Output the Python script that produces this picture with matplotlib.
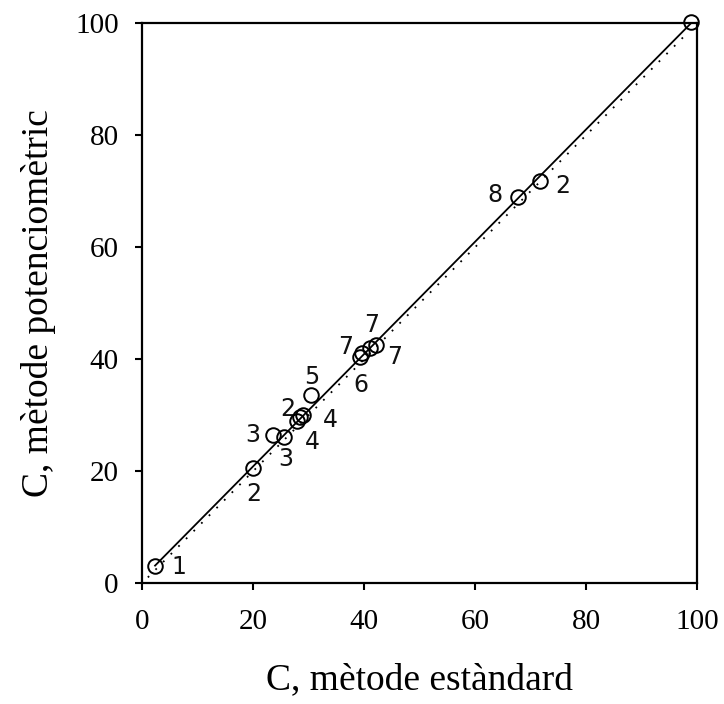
import matplotlib
matplotlib.use("Agg")
import matplotlib.pyplot as plt
import numpy as np

# Data
x_standard = [2.3, 20.0, 23.6, 25.6, 27.8, 28.5, 29.0, 30.5, 39.3, 39.6, 41.0, 42.2, 67.7, 71.7, 98.9]
y_potenc   = [3.0, 20.5, 26.4, 26.0, 29.0, 29.6, 30.0, 33.6, 40.4, 41.1, 41.9, 42.5, 68.9, 71.9, 100.2]
point_labels = ["1", "2", "3", "3", "4", "2", "4", "5", "6", "7", "7", "7", "8", "2", "9"]
label_offsets = [(24, -1), (1, -26), (-20, 0), (1, -22), (16, -21), (-13, 8), (27, -5), (0, 18),
                 (1, -28), (-16, 6), (2, 23), (18, -12), (-23, 2), (23, -5), (-27, -16)]

fit_intercept = 0.8
fit_slope = 1.003
fit_range = [2.3, 98.9]
identity_range = [1.0, 98.0]
ticks = [0, 20, 40, 60, 80, 100]

fig = plt.figure(figsize=(7.24, 7.04), dpi=100)
ax = fig.add_axes([142.3/724, 1-583/704, (697-142.3)/724, (583-23.3)/704])

# identity (dotted) and regression (solid)
ix = np.array(identity_range)
ax.plot(ix, ix, color="black", linestyle=(0, (1, 5)), linewidth=1.3, zorder=2)
fx = np.array(fit_range)
ax.plot(fx, fit_intercept + fit_slope*fx, color="black", linewidth=1.3, zorder=3)

ax.plot(x_standard, y_potenc, linestyle="none", marker="o", markersize=10.5,
        markerfacecolor="none", markeredgecolor="black", markeredgewidth=1.4,
        zorder=4, clip_on=False)

for xv, yv, lab, off in zip(x_standard, y_potenc, point_labels, label_offsets):
    ax.annotate(lab, (xv, yv), xytext=off, textcoords="offset pixels",
                ha="center", va="center", fontsize=17, family="DejaVu Sans", color="#111111")

ax.set_xlim(0, 100)
ax.set_ylim(0, 100)
ax.set_xticks(ticks)
ax.set_yticks(ticks)
ax.set_xticklabels([str(t) for t in ticks], fontsize=21, family="Liberation Serif")
ax.set_yticklabels([str(t) for t in ticks], fontsize=21, family="Liberation Serif")
ax.tick_params(axis="x", direction="out", length=5, width=1.5, pad=14, top=False)
ax.tick_params(axis="y", direction="out", length=5, width=1.5, pad=12, right=False)
for s in ax.spines.values():
    s.set_linewidth(1.6)

ax.set_xlabel("C, mètode estàndard", fontsize=27, family="Liberation Serif", labelpad=20)
ax.set_ylabel("C, mètode potenciomètric", fontsize=27, family="Liberation Serif", labelpad=14)

fig.savefig("out.png", dpi=100)
